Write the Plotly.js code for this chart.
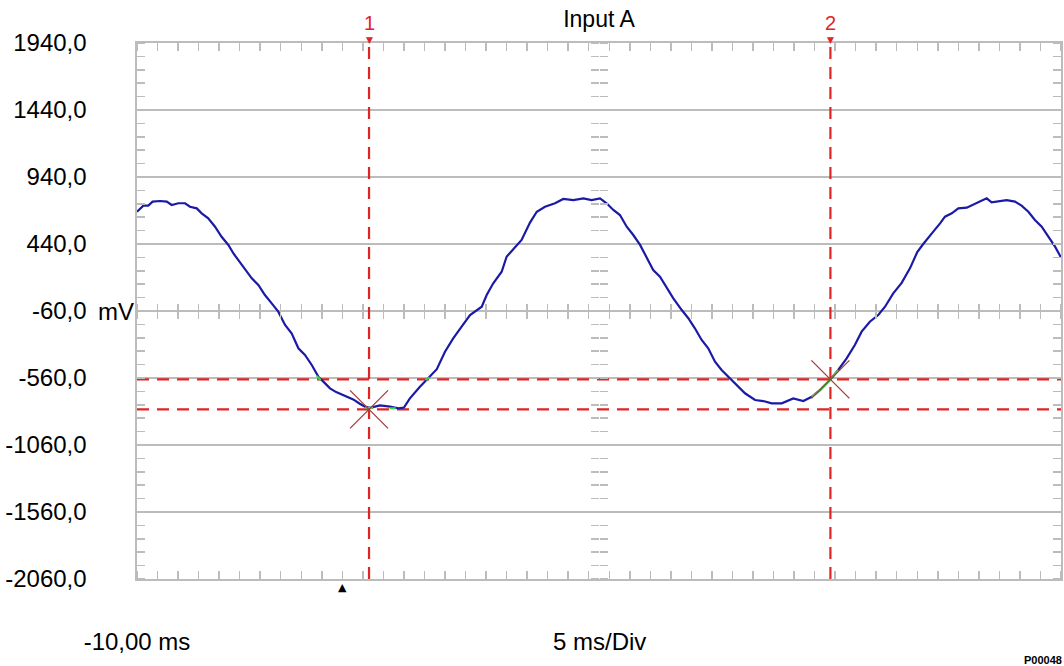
<!DOCTYPE html>
<html>
<head>
<meta charset="utf-8">
<script src="https://cdn.plot.ly/plotly-3.0.1.min.js"></script>
<style>
  html, body { margin: 0; padding: 0; background: #ffffff; }
  #chart { width: 1064px; height: 666px; }
</style>
</head>
<body>
<div id="chart"></div>
<script>
// ---- data ----
// Waveform "Input A": time in ms, voltage in mV
const timeMs = [
  -10.00, -9.69, -9.45, -9.24, -8.88, -8.55, -8.31, -7.99, -7.66, -7.42,
  -7.09, -6.85, -6.53, -6.20, -5.88, -5.55, -5.31, -5.07, -4.74, -4.41,
  -4.09, -3.77, -3.44, -3.12, -2.79, -2.47, -2.14, -1.82, -1.49, -1.17,
  -0.84, -0.60, -0.30, 0.05, 0.53, 0.85, 1.10, 1.35, 1.83, 2.32,
  2.73, 3.00, 3.29, 3.78, 4.19, 4.60, 5.00, 5.40, 5.81, 6.22,
  6.79, 7.03, 7.35, 7.76, 8.00, 8.41, 8.73, 9.14, 9.47, 9.87,
  10.36, 10.76, 11.25, 11.74, 12.14, 12.55, 12.87, 13.20, 13.52, 13.85,
  14.17, 14.50, 14.82, 15.14, 15.47, 15.80, 16.12, 16.53, 16.85, 17.17,
  17.50, 17.82, 18.15, 18.47, 18.80, 19.20, 19.61, 20.10, 20.50, 20.91,
  21.40, 21.96, 22.45, 22.86, 23.26, 23.75, 24.15, 24.56, 24.96, 25.29,
  25.69, 26.10, 26.43, 26.83, 27.24, 27.65, 28.00, 28.29, 28.62, 28.78,
  29.11, 29.35, 29.68, 30.00, 30.41, 30.73, 31.05, 31.38, 31.62, 32.03,
  32.35, 32.76, 33.08, 33.41, 33.73, 34.06, 34.38, 34.71, 35.00
];
const voltageMv = [
  681, 726, 726, 756, 761, 756, 731, 744, 744, 718,
  706, 669, 632, 569, 494, 433, 371, 321, 246, 184,
  134, 59, -3, -65, -164, -226, -338, -388, -463, -550,
  -600, -637, -665, -687, -720, -752, -774, -782, -765, -774,
  -786, -780, -712, -625, -562, -494, -364, -264, -177, -90,
  -28, 59, 147, 233, 345, 420, 470, 600, 681, 718,
  744, 776, 768, 781, 768, 781, 744, 694, 656, 569,
  507, 433, 345, 246, 196, 109, 35, -53, -114, -189,
  -276, -338, -438, -500, -550, -612, -674, -724, -732, -749,
  -749, -712, -732, -700, -650, -575, -500, -413, -314, -214,
  -140, -90, -28, 72, 150, 260, 380, 440, 507, 532,
  594, 644, 669, 706, 711, 736, 756, 781, 751, 761,
  768, 756, 726, 681, 619, 569, 494, 420, 340
];
// Highlighted (green) parts of the trace near the cursors
const greenT = [-1.25, -1.05, null, 1.10, 1.50, null, 2.30, 2.60, null, 4.05, 4.25, null, 22.86, 23.26, 23.75, 24.15];
const greenV = [-545, -575, null, -782, -782, null, -786, -786, null, -575, -555, null, -700, -650, -575, -500];

// Cursors
const cursorLabels = ["1", "2"];
const cursorTimes = [1.30, 23.77];       // vertical cursors, ms
const cursorLevels = [-570, -794];       // horizontal cursors, mV
const crossT = [1.30, 23.77];            // cursor / trace crossing marks
const crossV = [-794, -570];
const triggerTime = 0;

// Axes
const xRange = [-10, 35];
const yRange = [-2060, 1940];
const yTickVals = [1940, 1440, 940, 440, -60, -560, -1060, -1560, -2060];
const yTickText = ["1940,0", "1440,0", "940,0", "440,0", "-60,0", "-560,0", "-1060,0", "-1560,0", "-2060,0"];
const xTickVals = [-10];
const xTickText = ["-10,00 ms"];
const titleText = "Input A";
const xTitleText = "5 ms/Div";
const yUnitText = "mV";
const figureCode = "P00048";

// ---- styles ----
const FONT = "Liberation Sans, Arial, sans-serif";
const GRID = "#bcbcbc";
const RED = "#e02424";

const traces = [];

// horizontal cursors
cursorLevels.forEach(v => {
  traces.push({
    x: xRange, y: [v, v], mode: "lines", hoverinfo: "skip", showlegend: false,
    line: { color: RED, width: 2.2, dash: "12px,8px" }
  });
});
// vertical cursors
cursorTimes.forEach(t => {
  traces.push({
    x: [t, t], y: yRange, mode: "lines", hoverinfo: "skip", showlegend: false,
    line: { color: RED, width: 2.2, dash: "12px,8px" }
  });
});

// waveform
traces.push({
  x: timeMs, y: voltageMv, mode: "lines", showlegend: false,
  line: { color: "#1a1aa6", width: 2.2 }
});
// green highlights
traces.push({
  x: greenT, y: greenV, mode: "lines", showlegend: false, connectgaps: false,
  line: { color: "#3ddc3d", width: 2 }
});
// crossing marks
traces.push({
  x: crossT, y: crossV, mode: "markers", showlegend: false,
  marker: { symbol: "x-thin-open", size: 38, color: "#a83a3a", line: { color: "#a83a3a", width: 1.3 } }
});

// dummy traces for the centre graticule axes
traces.push({ x: [], y: [], xaxis: "x2", yaxis: "y", showlegend: false });
traces.push({ x: [], y: [], xaxis: "x3", yaxis: "y", showlegend: false });
traces.push({ x: [], y: [], xaxis: "x", yaxis: "y2", showlegend: false });
traces.push({ x: [], y: [], xaxis: "x", yaxis: "y3", showlegend: false });

const centreX = {
  overlaying: "x", anchor: "free", position: 0.5, range: xRange,
  tickmode: "linear", tick0: -10, dtick: 1, ticklen: 7, tickwidth: 1.5, tickcolor: GRID,
  showticklabels: false, showgrid: false, zeroline: false, showline: false, fixedrange: true
};
const centreY = {
  overlaying: "y", anchor: "free", position: 0.5, range: yRange,
  tickmode: "linear", tick0: -60, dtick: 100, ticklen: 8, tickwidth: 1.5, tickcolor: GRID,
  showticklabels: false, showgrid: false, zeroline: false, showline: false, fixedrange: true
};

const annotations = [];
cursorLabels.forEach((lab, i) => {
  annotations.push({
    x: cursorTimes[i], xref: "x", y: 1, yref: "paper", yanchor: "bottom", yshift: 7,
    text: lab, showarrow: false, font: { family: FONT, size: 20, color: RED }
  });
  annotations.push({
    x: cursorTimes[i], xref: "x", y: 1, yref: "paper", yanchor: "middle", yshift: 3,
    text: "▼", showarrow: false, font: { family: "DejaVu Sans", size: 9, color: RED }
  });
});
annotations.push({
  x: triggerTime, xref: "x", y: 0, yref: "paper", yanchor: "top", yshift: 0,
  text: "▲", showarrow: false, font: { family: "DejaVu Sans", size: 11, color: "#000" }
});
annotations.push({
  x: 0, xref: "paper", xanchor: "left", xshift: -41, y: -60, yref: "y", yanchor: "middle",
  text: yUnitText, showarrow: false, font: { family: FONT, size: 24, color: "#000" }
});
annotations.push({
  x: 0.5, xref: "paper", xanchor: "center", y: 0, yref: "paper", yanchor: "middle", yshift: -62,
  text: xTitleText, showarrow: false, font: { family: FONT, size: 24, color: "#000" }
});
annotations.push({
  x: 1, xref: "paper", xanchor: "right", xshift: 3, y: 0, yref: "paper", yanchor: "middle", yshift: -81,
  text: "<b>" + figureCode + "</b>", showarrow: false, font: { family: FONT, size: 11, color: "#000" }
});

const layout = {
  width: 1064, height: 666,
  margin: { l: 137, r: 3, t: 43, b: 87 },
  paper_bgcolor: "#ffffff", plot_bgcolor: "#ffffff",
  font: { family: FONT, size: 24, color: "#000" },
  showlegend: false,
  title: {
    text: titleText, x: 0.5, xref: "paper", xanchor: "center",
    y: 1 - 19 / 666, yref: "container", yanchor: "middle",
    font: { family: FONT, size: 23, color: "#000" }
  },
  xaxis: {
    range: xRange, fixedrange: true,
    tickmode: "array", tickvals: xTickVals, ticktext: xTickText,
    ticks: "", ticklabelstandoff: 41,
    showgrid: true, gridcolor: GRID, gridwidth: 1.6,
    showline: true, linecolor: GRID, linewidth: 1.6, mirror: "ticks", zeroline: false,
    minor: { tickmode: "linear", tick0: -10, dtick: 1, ticks: "inside", ticklen: 8, tickwidth: 1.5, tickcolor: GRID, showgrid: false }
  },
  yaxis: {
    range: yRange, fixedrange: true,
    tickmode: "array", tickvals: yTickVals, ticktext: yTickText,
    ticks: "", ticklabelstandoff: 44,
    showgrid: true, gridcolor: GRID, gridwidth: 1.6,
    showline: true, linecolor: GRID, linewidth: 1.6, mirror: "ticks", zeroline: false,
    minor: { tickmode: "linear", tick0: -60, dtick: 100, ticks: "inside", ticklen: 8, tickwidth: 1.5, tickcolor: GRID, showgrid: false }
  },
  xaxis2: Object.assign({}, centreX, { side: "bottom", ticks: "outside" }),
  xaxis3: Object.assign({}, centreX, { side: "top", ticks: "outside" }),
  yaxis2: Object.assign({}, centreY, { side: "left", ticks: "outside" }),
  yaxis3: Object.assign({}, centreY, { side: "right", ticks: "outside" }),
  annotations: annotations
};

Plotly.newPlot("chart", traces, layout, { staticPlot: true, displayModeBar: false });
</script>
</body>
</html>
